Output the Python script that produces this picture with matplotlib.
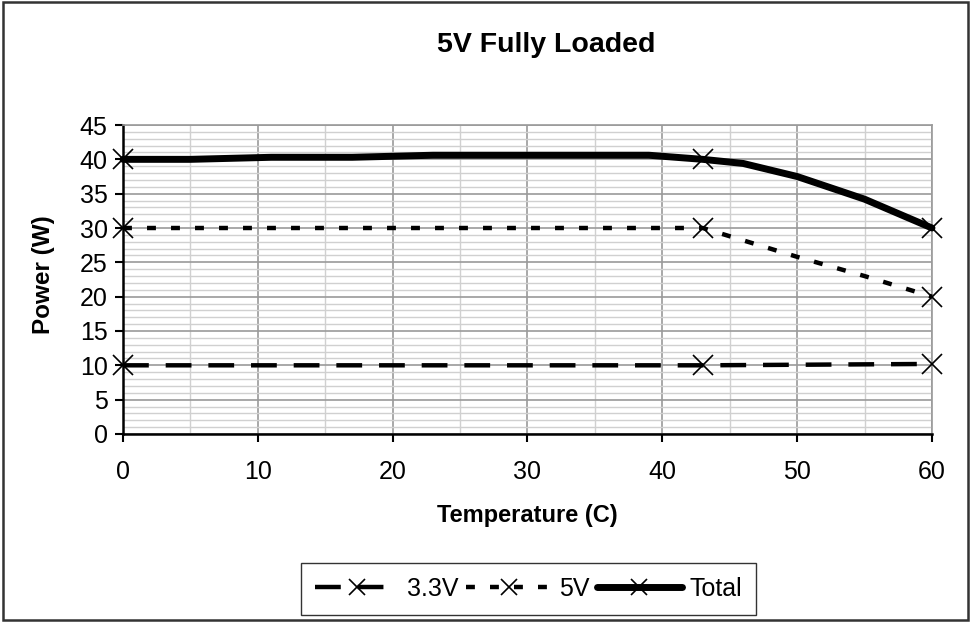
import matplotlib
matplotlib.use("Agg")
import matplotlib.pyplot as plt
from matplotlib.ticker import MultipleLocator
from matplotlib.patches import Rectangle

plt.rcParams["font.family"] = ["Liberation Sans", "DejaVu Sans"]

# data
temp_total = [0, 5, 11, 17, 23, 39, 43, 46, 50, 55, 60]
power_total = [40.0, 40.0, 40.3, 40.3, 40.6, 40.6, 40.0, 39.4, 37.5, 34.2, 30.0]
marks_total = [0, 6, 10]

temp_5v = [0, 43, 47, 50, 55, 60]
power_5v = [30.0, 30.0, 27.6, 25.8, 23.0, 20.0]
marks_5v = [0, 1, 5]

temp_33v = [0, 43, 60]
power_33v = [10.0, 10.0, 10.2]
marks_33v = [0, 1, 2]

fig = plt.figure(figsize=(9.71, 6.22), dpi=100)
ax = fig.add_axes([0.1267, 0.3023, 0.8331, 0.4967])

ax.plot(temp_33v, power_33v, color="black", lw=3.2, dashes=(5.8, 3.8),
        marker="x", ms=14, mew=1.2, markevery=marks_33v, clip_on=False,
        label="3.3V", zorder=3)
ax.plot(temp_5v, power_5v, color="black", lw=3.2, dashes=(2.0, 3.4),
        marker="x", ms=14, mew=1.2, markevery=marks_5v, clip_on=False,
        label="5V", zorder=3)
ax.plot(temp_total, power_total, color="black", lw=5,
        solid_capstyle="round", marker="x", ms=14, mew=1.2,
        markevery=marks_total, clip_on=False, label="Total", zorder=3)

ax.set_xlim(0, 60)
ax.set_ylim(0, 45)
ax.xaxis.set_major_locator(MultipleLocator(10))
ax.xaxis.set_minor_locator(MultipleLocator(5))
ax.yaxis.set_major_locator(MultipleLocator(5))
ax.yaxis.set_minor_locator(MultipleLocator(1))
ax.grid(True, which="major", color="#9a9a9a", lw=1.2)
ax.grid(True, which="minor", color="#d0d0d0", lw=1.0)
ax.set_axisbelow(True)

for side in ["top", "right"]:
    ax.spines[side].set_color("#9a9a9a")
    ax.spines[side].set_linewidth(1.2)
for side in ["left", "bottom"]:
    ax.spines[side].set_color("black")
    ax.spines[side].set_linewidth(1.8)

ax.tick_params(which="major", direction="out", length=6, width=1.5,
               labelsize=18, pad=5)
ax.tick_params(which="minor", length=0)
ax.tick_params(axis="x", pad=13)

ax.set_xlabel("Temperature (C)", fontsize=17, fontweight="bold", labelpad=14)
ax.set_ylabel("Power (W)", fontsize=17.5, fontweight="bold")
ax.yaxis.set_label_coords(-0.084, 0.515)
fig.text(0.563, 0.928, "5V Fully Loaded", ha="center", va="center",
         fontsize=20.5, fontweight="bold")

leg = fig.legend(loc="center", bbox_to_anchor=(0.544, 0.053), ncol=3,
                 fontsize=18, handlelength=3.4, handletextpad=0.3,
                 columnspacing=0.3, frameon=True, fancybox=False,
                 borderpad=0.55, borderaxespad=0)
leg.get_frame().set_edgecolor("black")
leg.get_frame().set_linewidth(1.0)
for h in leg.legend_handles:
    h.set_markersize(11)

# outer chart border
fig.patches.append(Rectangle((0.003, 0.004), 0.994, 0.992, transform=fig.transFigure,
                             fill=False, edgecolor="#333333", lw=1.8))

fig.savefig("out.png", dpi=100)
